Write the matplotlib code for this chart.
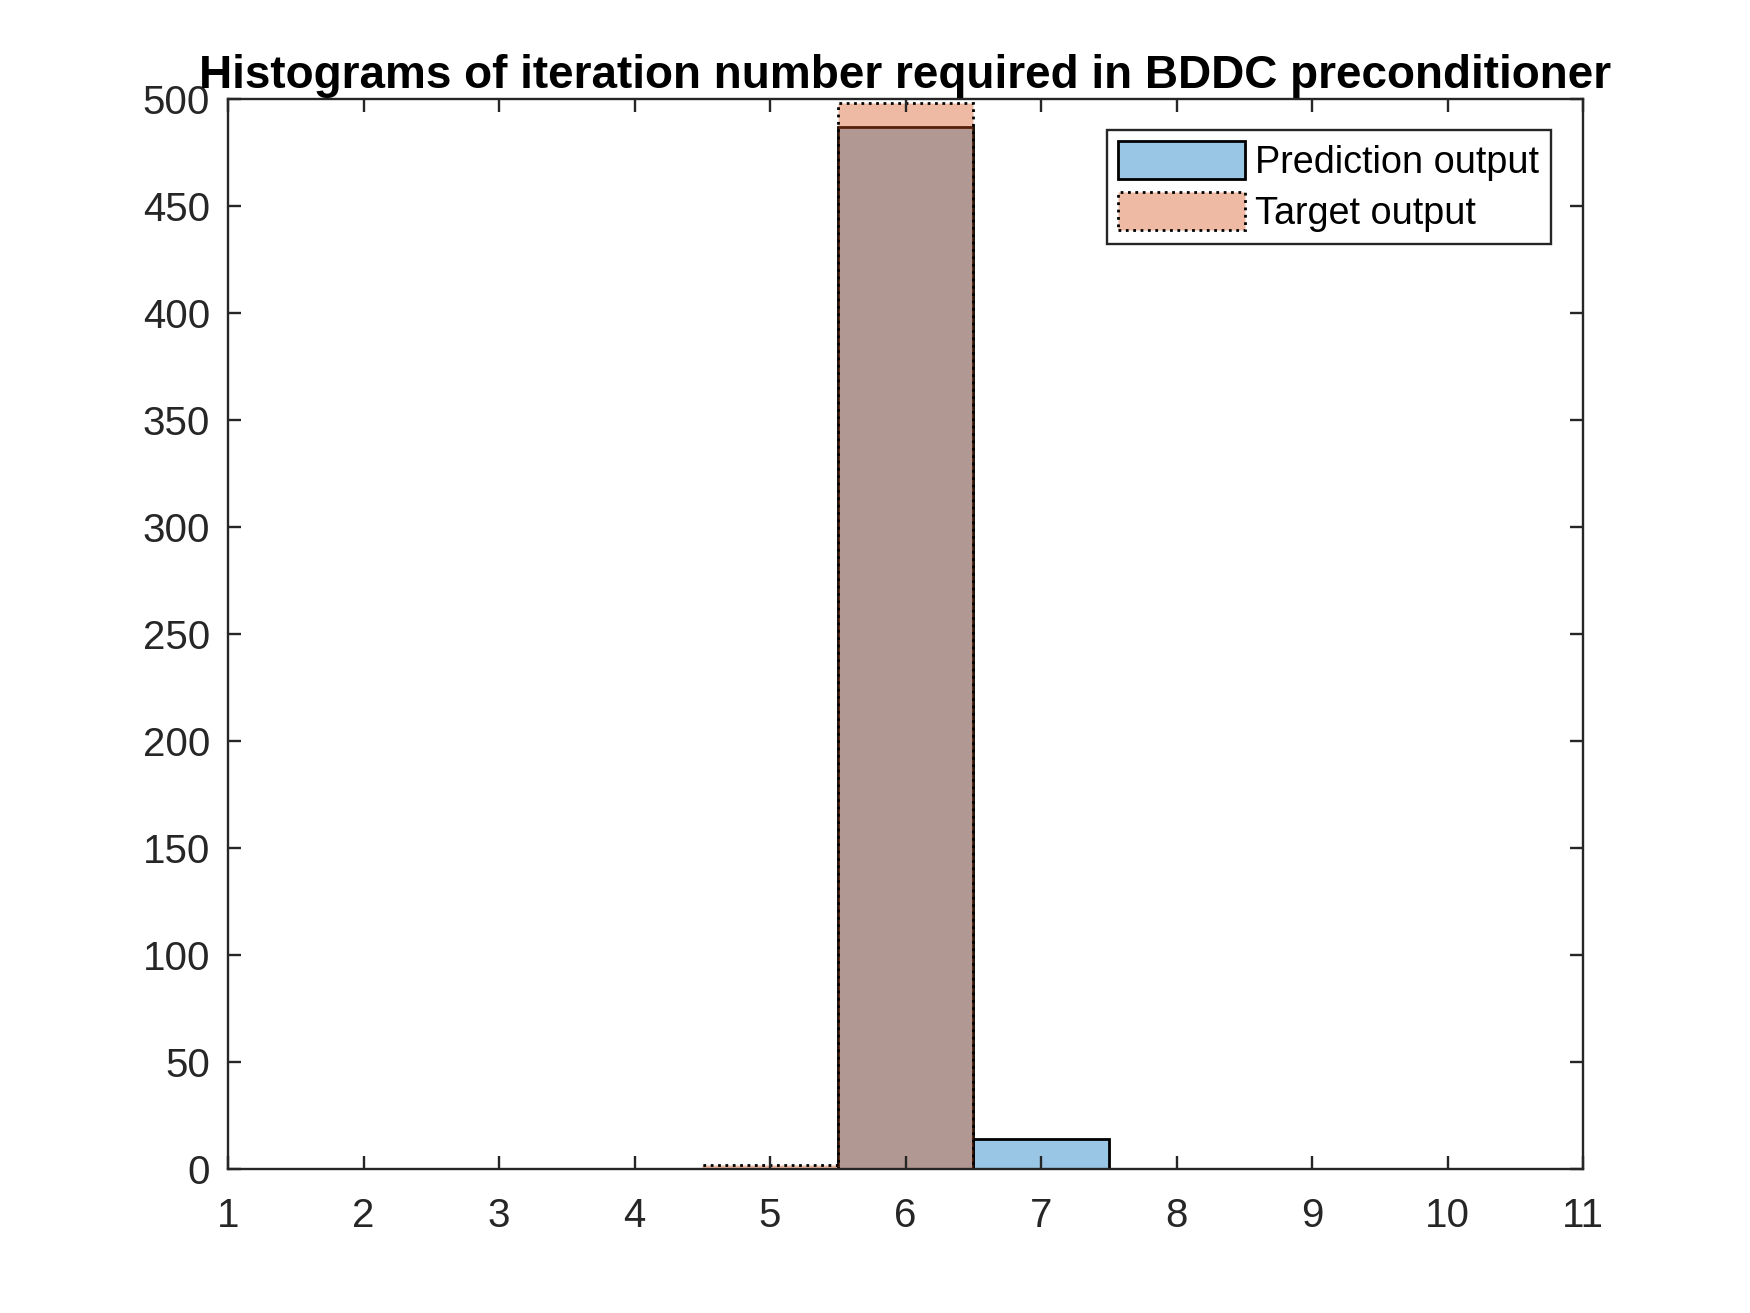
import matplotlib.pyplot as plt
import numpy as np

plt.rcParams['font.family'] = ['Liberation Sans', 'DejaVu Sans']

# histogram counts per iteration number (bin width 1)
bins = [5, 6, 7]
prediction_counts = [0, 487, 14]
target_counts = [2, 498, 0]
series_labels = ['Prediction output', 'Target output']
x_ticks = list(range(1, 12))
y_ticks = list(range(0, 501, 50))

blue = (0.0, 0.447, 0.741, 0.4)
orange = (0.85, 0.325, 0.098, 0.4)
dark = '#262626'

fig = plt.figure(figsize=(8.75, 6.565), dpi=200)
ax = fig.add_axes([0.1303, 0.1097, 0.7743, 0.8149])

b = np.array(bins)
pred = np.array(prediction_counts)
targ = np.array(target_counts)

mask = pred > 0
ax.bar(b[mask], pred[mask], width=1.0, facecolor=blue, edgecolor='black',
       linewidth=1.0, label=series_labels[0])
mask = targ > 0
ax.bar(b[mask], targ[mask], width=1.0, facecolor=orange, edgecolor='black',
       linewidth=1.0, linestyle=':', label=series_labels[1])

ax.set_xlim(1, 11)
ax.set_ylim(0, 500)
ax.set_xticks(x_ticks)
ax.set_yticks(y_ticks)
ax.tick_params(direction='in', top=True, right=True, length=4.7, width=0.85,
               colors=dark, labelsize=14.5)
ax.tick_params(axis='x', pad=10)
ax.tick_params(axis='y', pad=6.5)
for s in ax.spines.values():
    s.set_color(dark)
    s.set_linewidth(0.85)

ax.set_title('Histograms of iteration number required in BDDC preconditioner',
             fontsize=16.5, fontweight='bold', pad=4)

leg = ax.legend(loc='upper right', bbox_to_anchor=(0.976, 0.971), fontsize=13.6,
                fancybox=False, framealpha=1, edgecolor=dark, borderpad=0.3,
                handlelength=3.35, handleheight=1.17, handletextpad=0.27,
                labelspacing=0.3, borderaxespad=0)
leg.get_frame().set_linewidth(0.85)

fig.savefig('out.png', dpi=200)
